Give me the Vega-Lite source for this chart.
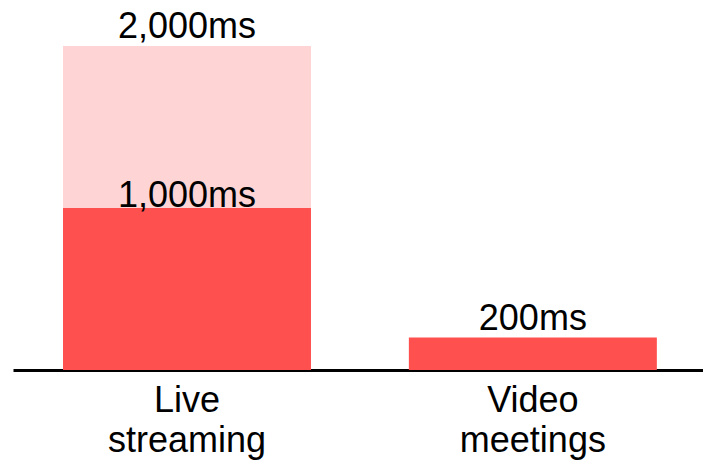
{
  "$schema": "https://vega.github.io/schema/vega-lite/v6.json",
  "width": 690,
  "height": 324,
  "autosize": {"type": "none"},
  "padding": {"left": 13, "top": 46, "right": 0, "bottom": 93},
  "background": "white",
  "config": {"view": {"stroke": null}, "font": "Liberation Sans"},
  "datasets": {
    "bars": [
      {"category": "Live streaming", "start": 1000, "end": 2000, "tier": "upper"},
      {"category": "Live streaming", "start": 0, "end": 1000, "tier": "lower"},
      {"category": "Video meetings", "start": 0, "end": 200, "tier": "lower"}
    ],
    "labels": [
      {"category": "Live streaming", "value": 2000, "text": "2,000ms", "group": "top"},
      {"category": "Live streaming", "value": 1000, "text": "1,000ms", "group": "inner"},
      {"category": "Video meetings", "value": 200, "text": "200ms", "group": "top"}
    ]
  },
  "layer": [
    {
      "data": {"name": "bars"},
      "mark": {"type": "bar"},
      "encoding": {
        "x": {
          "field": "category", "type": "nominal", "sort": null,
          "scale": {"paddingInner": 0.283, "paddingOuter": 0.139, "align": 0.52},
          "axis": {
            "title": null, "labelAngle": 0, "ticks": false,
            "domainColor": "black", "domainWidth": 3,
            "labelFontSize": 36, "labelColor": "black", "labelFont": "Liberation Sans",
            "labelPadding": 13, "labelLineHeight": 40,
            "labelExpr": "split(datum.label, ' ')"
          }
        },
        "y": {"field": "start", "type": "quantitative", "scale": {"domain": [0, 2000]}, "axis": null},
        "y2": {"field": "end"},
        "color": {
          "field": "tier", "type": "nominal",
          "scale": {"domain": ["upper", "lower"], "range": ["#FFD4D4", "#FF5050"]},
          "legend": null
        }
      }
    },
    {
      "data": {"name": "labels"},
      "transform": [{"filter": "datum.group === 'top'"}],
      "mark": {"type": "text", "baseline": "alphabetic", "dy": -8, "fontSize": 36, "font": "Liberation Sans", "color": "black"},
      "encoding": {
        "x": {"field": "category", "type": "nominal", "sort": null},
        "y": {"field": "value", "type": "quantitative"},
        "text": {"field": "text"}
      }
    },
    {
      "data": {"name": "labels"},
      "transform": [{"filter": "datum.group === 'inner'"}],
      "mark": {"type": "text", "baseline": "alphabetic", "dy": -1, "fontSize": 36, "font": "Liberation Sans", "color": "black"},
      "encoding": {
        "x": {"field": "category", "type": "nominal", "sort": null},
        "y": {"field": "value", "type": "quantitative"},
        "text": {"field": "text"}
      }
    }
  ]
}
